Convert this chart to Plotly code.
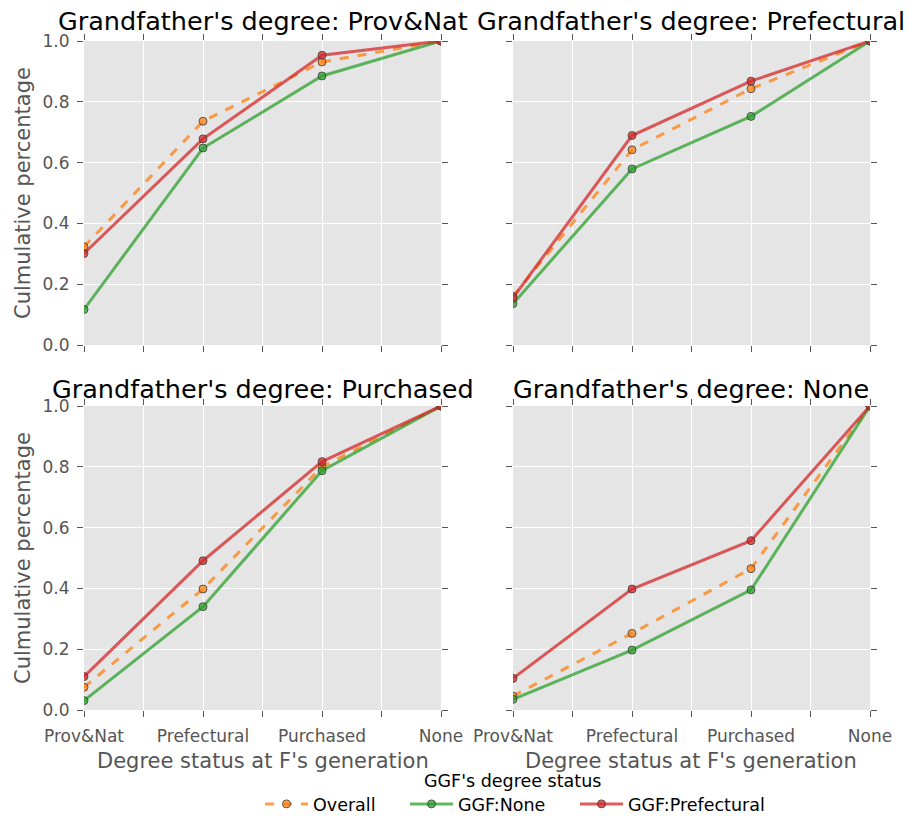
import plotly.graph_objects as go

categories = ["Prov&Nat", "Prefectural", "Purchased", "None"]
panel_titles = ["Grandfather's degree: Prov&Nat", "Grandfather's degree: Prefectural",
                "Grandfather's degree: Purchased", "Grandfather's degree: None"]

overall = [
    [0.323, 0.736, 0.931, 1.0],
    [0.160, 0.642, 0.843, 1.0],
    [0.075, 0.398, 0.800, 1.0],
    [0.046, 0.252, 0.465, 1.0],
]
ggf_none = [
    [0.117, 0.648, 0.885, 1.0],
    [0.136, 0.579, 0.752, 1.0],
    [0.031, 0.340, 0.787, 1.0],
    [0.035, 0.197, 0.395, 1.0],
]
ggf_pref = [
    [0.301, 0.678, 0.953, 1.0],
    [0.155, 0.689, 0.868, 1.0],
    [0.110, 0.491, 0.817, 1.0],
    [0.104, 0.398, 0.557, 1.0],
]

series = [
    ("Overall", overall, "rgba(255,127,14,0.75)", "dash", "legend"),
    ("GGF:None", ggf_none, "rgba(44,160,44,0.75)", "solid", "legend2"),
    ("GGF:Prefectural", ggf_pref, "rgba(214,39,40,0.75)", "solid", "legend3"),
]

W, H = 909, 816
xdoms = [(84 / W, 441 / W), (513 / W, 870 / W)]
ydoms = [(1 - 345 / H, 1 - 41 / H), (1 - 710 / H, 1 - 406 / H)]
title_centers = [21, 388.5]

fig = go.Figure()
gray = "#555555"
font_family = "DejaVu Sans"

xpos = list(range(len(categories)))
tickvals = [i * 0.5 for i in range(2 * len(categories) - 1)]

for p in range(4):
    r, c = divmod(p, 2)
    idx = "" if p == 0 else str(p + 1)
    xname, yname = "x" + idx, "y" + idx
    for name, data, color, dash, leg in series:
        fig.add_trace(go.Scatter(
            x=xpos, y=data[p], mode="lines+markers", name=name,
            legendgroup=name, showlegend=(p == 0), legend=leg,
            line=dict(color=color, width=3, dash=dash),
            marker=dict(size=8, color=color, line=dict(color="rgba(60,60,60,0.8)", width=1)),
            xaxis=xname, yaxis=yname,
        ))
    ticktext = [categories[int(v)] if (v == int(v) and r == 1) else "" for v in tickvals]
    fig.layout["xaxis" + idx] = dict(
        domain=xdoms[c], anchor=yname, range=[0, 3], automargin=False,
        tickvals=tickvals, ticktext=ticktext,
        ticks="outside", ticklen=6, tickcolor=gray, mirror="ticks",
        showgrid=True, gridcolor="white", gridwidth=1, zeroline=False, showline=False,
        tickfont=dict(size=17, color=gray, family=font_family), ticklabelstandoff=5,
    )
    fig.layout["yaxis" + idx] = dict(
        domain=ydoms[r], anchor=xname, range=[0, 1], automargin=False,
        tickvals=[0, 0.2, 0.4, 0.6, 0.8, 1.0],
        ticktext=(["0.0", "0.2", "0.4", "0.6", "0.8", "1.0"] if c == 0 else [""] * 6),
        ticks="outside", ticklen=6, tickcolor=gray, mirror="ticks",
        showgrid=True, gridcolor="white", gridwidth=1, zeroline=False, showline=False,
        tickfont=dict(size=17, color=gray, family=font_family), ticklabelstandoff=4,
    )
    fig.add_annotation(
        text=panel_titles[p], xref="paper", yref="paper",
        x=(xdoms[c][0] + xdoms[c][1]) / 2, y=1 - title_centers[r] / H,
        xanchor="center", yanchor="middle", showarrow=False,
        font=dict(size=25.5, color="black", family=font_family),
    )
    if c == 0:
        fig.add_annotation(
            text="Culmulative percentage", xref="paper", yref="paper",
            x=23 / W, y=(ydoms[r][0] + ydoms[r][1]) / 2, textangle=-90,
            xanchor="center", yanchor="middle", showarrow=False,
            font=dict(size=21, color=gray, family=font_family),
        )
    if r == 1:
        fig.add_annotation(
            text="Degree status at F's generation", xref="paper", yref="paper",
            x=(xdoms[c][0] + xdoms[c][1]) / 2, y=1 - 761 / H,
            xanchor="center", yanchor="middle", showarrow=False,
            font=dict(size=21, color=gray, family=font_family),
        )

fig.add_annotation(
    text="GGF's degree status", xref="paper", yref="paper",
    x=512 / W, y=1 - 781 / H, xanchor="center", yanchor="middle", showarrow=False,
    font=dict(size=17.5, color="black", family=font_family),
)

leg_common = dict(orientation="h", yanchor="middle", y=1 - 804 / H, xanchor="left",
                  font=dict(size=17.5, color="black", family=font_family),
                  bgcolor="rgba(0,0,0,0)", itemwidth=43)
fig.update_layout(
    width=W, height=H, margin=dict(l=0, r=0, t=0, b=0, autoexpand=False),
    paper_bgcolor="white", plot_bgcolor="#E5E5E5",
    font=dict(family=font_family),
    legend=dict(x=260 / W, **leg_common),
    legend2=dict(x=405 / W, **leg_common),
    legend3=dict(x=575 / W, **leg_common),
)

fig.write_html("out.html")
